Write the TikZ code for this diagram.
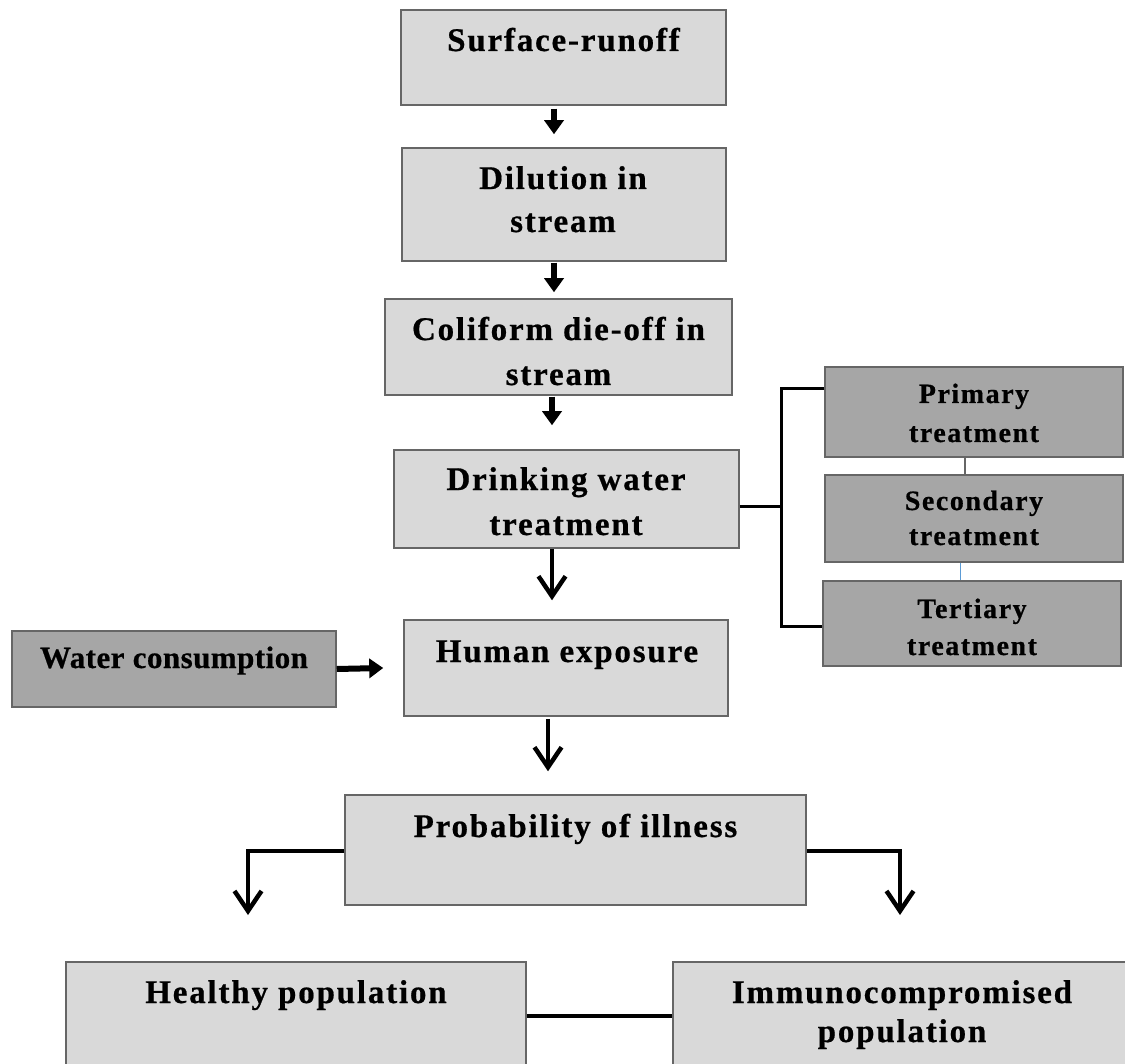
\documentclass[tikz,border=0pt]{standalone}
\usepackage{fontspec}
\usetikzlibrary{arrows.meta}
\newfontfamily\sfnt[LetterSpace=5.5,BoldFeatures={FakeBold=0.6}]{Liberation Serif}
\newfontfamily\wfnt[LetterSpace=1.5,BoldFeatures={FakeBold=0.6}]{Liberation Serif}
\definecolor{lfill}{HTML}{D9D9D9}
\definecolor{dfill}{HTML}{A6A6A6}
\definecolor{bcol}{HTML}{666666}
\definecolor{lblue}{HTML}{5B9BD5}
\begin{document}
\begin{tikzpicture}[x=1pt,y=-1pt,
  lbox/.style={draw=bcol, fill=lfill, line width=1.5pt, inner sep=0pt},
  dbox/.style={lbox, fill=dfill},
  lbl/.style={anchor=base, align=center, inner sep=0pt, font=\sfnt\bfseries\fontsize{33}{43}\selectfont},
  tlbl/.style={anchor=base, align=center, inner sep=0pt, font=\sfnt\bfseries\fontsize{28}{39}\selectfont},
  sarrow/.style={line width=6pt, -{Triangle[width=19pt,length=14pt]}},
  varrow/.style={line width=4.5pt, -{Straight Barb[width=27pt,length=20pt]}},
  bracket/.style={line width=3pt},
]
\useasboundingbox (0,0) rectangle (1125,1064);
\clip (0,0) rectangle (1125,1064);

% main column boxes
\node[lbox, minimum width=325pt, minimum height=95pt] (b1) at (563.5,57.5) {};
\node[lbox, minimum width=324pt, minimum height=113pt] (b2) at (564,204.5) {};
\node[lbox, minimum width=347pt, minimum height=96pt] (b3) at (558.5,347) {};
\node[lbox, minimum width=345pt, minimum height=98pt] (b4) at (566.5,499) {};
\node[lbox, minimum width=324pt, minimum height=96pt] (b5) at (566,668) {};
\node[dbox, minimum width=324pt, minimum height=76pt] (wc) at (174,669) {};
\node[lbox, minimum width=461pt, minimum height=110pt] (b6) at (575.5,850) {};
\node[lbox, minimum width=460pt, minimum height=138pt] (b7) at (296,1031) {};
\node[lbox, minimum width=458pt, minimum height=138pt] (b8) at (902,1031) {};
% treatment boxes
\node[dbox, minimum width=298pt, minimum height=90pt] (t1) at (974,412) {};
\node[dbox, minimum width=298pt, minimum height=87pt] (t2) at (974,518.5) {};
\node[dbox, minimum width=298pt, minimum height=85pt] (t3) at (972,623.5) {};

% labels (multi-line: anchor base = last line)
\node[lbl] (l1) at (563.5,51) {Surface-runoff};
\node[lbl] (l2) at (563,232) {Dilution in\\stream};
\node[lbl, font=\sfnt\bfseries\fontsize{33}{45}\selectfont] (l3) at (558.5,385) {Coliform die-off in\\stream};
\node[lbl, font=\sfnt\bfseries\fontsize{33}{45}\selectfont] (l4) at (566,535) {Drinking water\\treatment};
\node[lbl] (l5) at (567,662) {Human exposure};
\node[anchor=base, inner sep=0pt, font=\wfnt\bfseries\fontsize{31}{40}\selectfont] (l6) at (174,668) {Water consumption};
\node[lbl] (l7) at (575.5,837) {Probability of illness};
\node[lbl] (l8) at (296,1003) {Healthy population};
\node[lbl, font=\sfnt\bfseries\fontsize{33}{39}\selectfont] (l9) at (902,1042) {Immunocompromised\\population};
\node[tlbl] (l10) at (974,442) {Primary\\treatment};
\node[tlbl, font=\sfnt\bfseries\fontsize{28}{35}\selectfont] (l11) at (974,545) {Secondary\\treatment};
\node[tlbl, font=\sfnt\bfseries\fontsize{28}{37}\selectfont] (l12) at (972,655) {Tertiary\\treatment};

% small filled arrows
\draw[sarrow] ([xshift=-9.5pt,yshift=-3pt]b1.south) -- ([xshift=-10pt,yshift=13pt]b2.north);
\draw[sarrow] ([xshift=-10pt,yshift=-1pt]b2.south) -- ([xshift=-4.5pt,yshift=6pt]b3.north);
\draw[sarrow] ([xshift=-6.5pt,yshift=-1pt]b3.south) -- ([xshift=-14.5pt,yshift=24pt]b4.north);
\draw[sarrow] (wc.east) -- ([xshift=-20pt]b5.west);

% open arrows
\draw[varrow] ([xshift=-14.5pt]b4.south) -- ([xshift=-14pt,yshift=19pt]b5.north);
\draw[varrow] ([xshift=-18pt,yshift=-2pt]b5.south) -- ([xshift=-27.5pt,yshift=23pt]b6.north);
\coordinate (hl) at (248,915);
\coordinate (hr) at (900,915);
\draw[varrow] ([yshift=-1pt]b6.west) -| (hl);
\draw[varrow] ([yshift=-1pt]b6.east) -| (hr);

% bracket to treatments
\coordinate (bj) at (781,506);
\draw[bracket] ([yshift=-7pt]b4.east) -- (bj);
\draw[bracket] ([yshift=23pt]t1.west) -| (bj) |- ([yshift=-2.5pt]t3.west);
\draw[line width=1.5pt, bcol] ([xshift=-9pt]t1.south) -- ([xshift=-9pt]t2.north);
\draw[line width=1pt, lblue] ([xshift=-14pt]t2.south) -- ([xshift=-12pt]t3.north);

% bottom link
\draw[line width=4pt] ([yshift=15pt]b7.east) -- ([yshift=15pt]b8.west);
\end{tikzpicture}
\end{document}
